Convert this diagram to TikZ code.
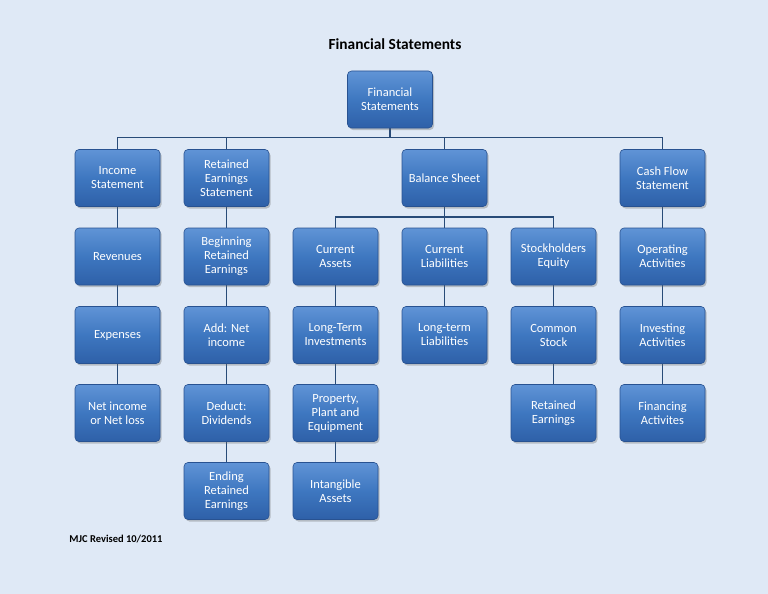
\documentclass[tikz,border=0pt]{standalone}
\usepackage{fontspec}
\setmainfont{Carlito}
\usetikzlibrary{shadows,backgrounds}
\definecolor{bg}{RGB}{223,233,246}
\definecolor{boxtop}{RGB}{96,148,214}
\definecolor{boxmid}{RGB}{62,119,192}
\definecolor{boxbot}{RGB}{46,96,168}
\definecolor{boxedge}{RGB}{40,82,145}
\definecolor{linec}{RGB}{40,75,120}
\tikzset{
  fbox/.style={draw=boxedge, line width=0.6pt, rounded corners=4pt,
    top color=boxtop, bottom color=boxbot, middle color=boxmid,
    minimum width=85pt, minimum height=57pt, align=center,
    text=white, font=\fontsize{12.5}{14}\selectfont, inner sep=1pt,
    drop shadow={shadow xshift=1.5pt, shadow yshift=-2pt, opacity=0.35, fill=black!60}},
  conn/.style={draw=linec, line width=1.2pt}
}
\begin{document}
\begin{tikzpicture}[x=1pt,y=-1pt]
\useasboundingbox (0,0) rectangle (768,594);
\node[font=\fontsize{15.4}{18}\selectfont\bfseries] (title) at (395,44) {Financial Statements};
\node[font=\fontsize{10.5}{12}\selectfont\bfseries] (rev) at (116,539) {MJC Revised 10/2011};
% top
\node[fbox] (fs) at (390,99.5) {Financial\\Statements};
% row 1
\node[fbox] (inc) at (117.5,178) {Income\\Statement};
\node[fbox] (res) at (226.5,178) {Retained\\Earnings\\Statement};
\node[fbox] (bs) at (444.5,178) {Balance Sheet};
\node[fbox] (cf) at (662.5,178) {Cash Flow\\Statement};
% row 2
\node[fbox] (revn) at (117.5,256.5) {Revenues};
\node[fbox] (bre) at (226.5,256.5) {Beginning\\Retained\\Earnings};
\node[fbox] (ca) at (335.5,256.5) {Current\\Assets};
\node[fbox] (cl) at (444.5,256.5) {Current\\Liabilities};
\node[fbox] (se) at (553.5,256.5) {Stockholders\\Equity};
\node[fbox] (oa) at (662.5,256.5) {Operating\\Activities};
% row 3
\node[fbox] (exp) at (117.5,335) {Expenses};
\node[fbox] (ani) at (226.5,335) {Add: Net\\income};
\node[fbox] (lti) at (335.5,335) {Long-Term\\Investments};
\node[fbox] (ltl) at (444.5,335) {Long-term\\Liabilities};
\node[fbox] (cs) at (553.5,335) {Common\\Stock};
\node[fbox] (ia) at (662.5,335) {Investing\\Activities};
% row 4
\node[fbox] (nil) at (117.5,413) {Net income\\or Net loss};
\node[fbox] (dd) at (226.5,413) {Deduct:\\Dividends};
\node[fbox] (ppe) at (335.5,413) {Property,\\Plant and\\Equipment};
\node[fbox] (re) at (553.5,413) {Retained\\Earnings};
\node[fbox] (fa) at (662.5,413) {Financing\\Activites};
% row 5
\node[fbox] (ere) at (226.5,491) {Ending\\Retained\\Earnings};
\node[fbox] (inta) at (335.5,491) {Intangible\\Assets};
% buses
\coordinate (bus1) at (390,137.5);
\coordinate (bus2) at (444.5,217);
\begin{scope}[on background layer]
\path[fill=bg] (0,0) rectangle (768,594);
\foreach \n in {inc,res,bs,cf}{
  \draw[conn] (fs.south) -- (fs.south|-bus1) -| (\n.north);
}
\foreach \n in {ca,cl,se}{
  \draw[conn] (bs.south) -- (bs.south|-bus2) -| (\n.north);
}
\draw[conn] (inc.south) -- (revn.north);
\draw[conn] (revn.south) -- (exp.north);
\draw[conn] (exp.south) -- (nil.north);
\draw[conn] (res.south) -- (bre.north);
\draw[conn] (bre.south) -- (ani.north);
\draw[conn] (ani.south) -- (dd.north);
\draw[conn] (dd.south) -- (ere.north);
\draw[conn] (ca.south) -- (lti.north);
\draw[conn] (lti.south) -- (ppe.north);
\draw[conn] (ppe.south) -- (inta.north);
\draw[conn] (cl.south) -- (ltl.north);
\draw[conn] (se.south) -- (cs.north);
\draw[conn] (cs.south) -- (re.north);
\draw[conn] (cf.south) -- (oa.north);
\draw[conn] (oa.south) -- (ia.north);
\draw[conn] (ia.south) -- (fa.north);
\end{scope}
\end{tikzpicture}
\end{document}
